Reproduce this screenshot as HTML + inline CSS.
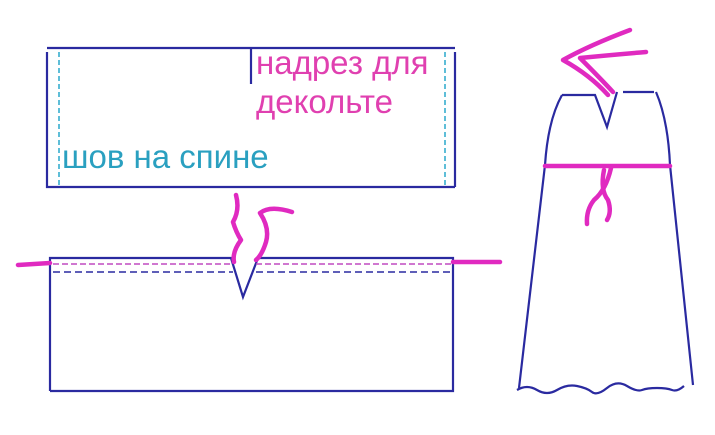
<!DOCTYPE html>
<html><head><meta charset="utf-8"><style>
body{margin:0;background:#fff;width:715px;height:435px;overflow:hidden}
svg{display:block}
text{font-family:"Liberation Sans",sans-serif;font-size:33px}
</style></head><body>
<svg width="715" height="435" viewBox="0 0 715 435">
<g fill="none" stroke="#2a2aa0" stroke-width="2.2">
<path d="M47,48 H455 M47,52 V187 H455 M455,52 V187"/>
<path d="M251,48 V84"/>
<path d="M50,391 V258 H231 L243,297 L258,258 H453 V391 H50"/>
<path d="M562,95 H595 L607,127 L617,92 M623,92 H654"/>
<path d="M562,95 Q548,120 545,165 L519,388"/>
<path d="M656,92 Q668,120 670,165 L693,385"/>
<path d="M517,390 q10,-6 20,0 t20,0 t20,-4 t15,6 t15,-4 t20,-2 t15,4 t15,-2 t15,2 t12,-4"/>
<path d="M53,272 H233 M256,272 H451" stroke-dasharray="7,4" stroke-width="1.6"/>
</g>
<g fill="none" stroke="#2aa8cc" stroke-width="1.5" stroke-dasharray="5,3">
<path d="M59,52 V185 M445,52 V185"/>
</g>
<path d="M53,264 H232 M256,264 H451" fill="none" stroke="#c04ac0" stroke-width="1.4" stroke-dasharray="6,3"/>
<g fill="none" stroke="#e02ac0" stroke-width="4.5" stroke-linecap="round" stroke-linejoin="round">
<path d="M18,265 L50,263 M453,262 L500,262"/>
<path d="M236,195 Q240,210 233,222 Q236,232 241,240 Q232,252 234,262"/>
<path d="M292,212 Q270,205 260,213 Q270,228 266,242 Q262,255 256,260"/>
<path d="M545,166 H670"/>
<path d="M630,30 Q590,45 563,60 Q590,75 608,95"/>
<path d="M646,52 Q610,55 580,58 Q600,78 613,92"/>
<path d="M611,168 Q606,190 594,200 Q586,210 587,224"/>
<path d="M604,170 Q600,190 608,200 Q612,212 607,220"/>
</g>
<text x="256" y="74" fill="#e040b0">надрез для</text>
<text x="256" y="113" fill="#e040b0">декольте</text>
<text x="62" y="168" fill="#2aa0c0">шов на спине</text>
</svg>
</body></html>
